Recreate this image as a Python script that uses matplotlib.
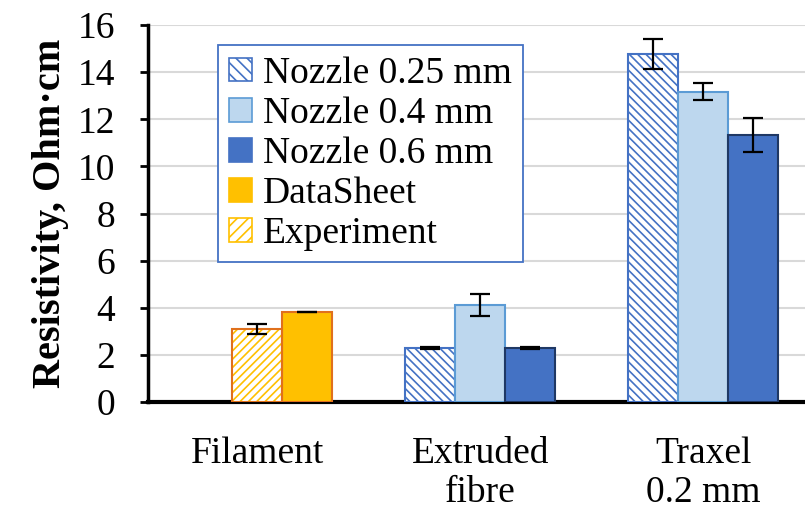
import matplotlib
matplotlib.use("Agg")
import matplotlib.pyplot as plt
from matplotlib.patches import Patch
import numpy as np

plt.rcParams['font.family'] = ['Liberation Serif', 'DejaVu Serif']
plt.rcParams['hatch.linewidth'] = 1.2

categories = ["Filament", "Extruded\nfibre", "Traxel\n0.2 mm"]
# Filament group
experiment_val = [3.10]
experiment_err = [0.23]
datasheet_val = [3.82]
datasheet_err = [0.02]
# Extruded fibre and Traxel groups
nozzle025 = [2.29, 14.77]
nozzle025_err = [0.03, 0.64]
nozzle04 = [4.12, 13.16]
nozzle04_err = [0.47, 0.36]
nozzle06 = [2.30, 11.33]
nozzle06_err = [0.03, 0.72]
yticks = [0, 2, 4, 6, 8, 10, 12, 14, 16]

fig = plt.figure(figsize=(8.05, 5.11), dpi=100)
ax = fig.add_axes([0.184, 0.2133, 0.816, 0.7377])

w = 0.224
x = np.arange(len(categories))
ekw = dict(ecolor='black', elinewidth=1.6, capsize=7, capthick=1.6)

BLUE = '#4472C4'
LBLUE = '#BDD7EE'
LBLUE_E = '#5B9BD5'
NAVY = '#1F3864'
GOLD = '#FFC000'
ORANGE = '#E0701C'

# Filament: experiment (hatched) and datasheet
ax.bar(x[0] + 0 * w, experiment_val, w, color='white', edgecolor=GOLD, hatch='////', linewidth=0, zorder=3)
ax.bar(x[0] + 0 * w, experiment_val, w, fill=False, edgecolor=ORANGE, linewidth=1.5, zorder=4,
       yerr=experiment_err, error_kw=ekw)
ax.bar(x[0] + w, datasheet_val, w, color=GOLD, edgecolor=ORANGE, linewidth=1.5, zorder=3,
       yerr=datasheet_err, error_kw=ekw)

xg = x[1:]
ax.bar(xg - w, nozzle025, w, color='white', edgecolor=BLUE, hatch='\\\\\\\\', linewidth=1.5, zorder=3,
       yerr=nozzle025_err, error_kw=ekw)
ax.bar(xg, nozzle04, w, color=LBLUE, edgecolor=LBLUE_E, linewidth=1.5, zorder=3,
       yerr=nozzle04_err, error_kw=ekw)
ax.bar(xg + w, nozzle06, w, color=BLUE, edgecolor=NAVY, linewidth=1.5, zorder=3,
       yerr=nozzle06_err, error_kw=ekw)

ax.set_xlim(-0.489, 2.457)
ax.set_ylim(0, 16)
ax.set_yticks(yticks)
ax.set_xticks(x)
ax.set_xticklabels(categories, fontsize=27, linespacing=1.15)
ax.tick_params(axis='x', length=0, pad=25)
ax.tick_params(axis='y', labelsize=27, width=2, length=6, direction='out', pad=18)
ax.yaxis.grid(True, color='#D9D9D9', linewidth=1.5, zorder=0)
ax.set_axisbelow(True)
for s in ['top', 'right']:
    ax.spines[s].set_visible(False)
ax.spines['left'].set_linewidth(2.5)
ax.spines['bottom'].set_linewidth(3)
ax.set_ylabel("Resistivity, Ohm·cm", fontsize=29, fontweight='bold', labelpad=6)

handles = [
    Patch(facecolor='white', edgecolor=BLUE, hatch='\\\\\\', linewidth=1.2),
    Patch(facecolor=LBLUE, edgecolor=LBLUE_E, linewidth=1.2),
    Patch(facecolor=BLUE, edgecolor=BLUE, linewidth=1.2),
    Patch(facecolor=GOLD, edgecolor=GOLD, linewidth=1.2),
    Patch(facecolor='white', edgecolor=GOLD, hatch='///', linewidth=1.2),
]
labels = ["Nozzle 0.25 mm", "Nozzle 0.4 mm", "Nozzle 0.6 mm", "DataSheet", "Experiment"]
leg = fig.legend(handles, labels, loc='upper left', bbox_to_anchor=(218 / 805, 1 - 45 / 511),
                 fontsize=27, frameon=True, fancybox=False, framealpha=1, edgecolor=BLUE,
                 handlelength=0.6, handleheight=0.6, handletextpad=0.3, labelspacing=0.15,
                 borderpad=0.3, borderaxespad=0)
leg.get_frame().set_linewidth(1.3)

fig.savefig("out.png", dpi=100)
